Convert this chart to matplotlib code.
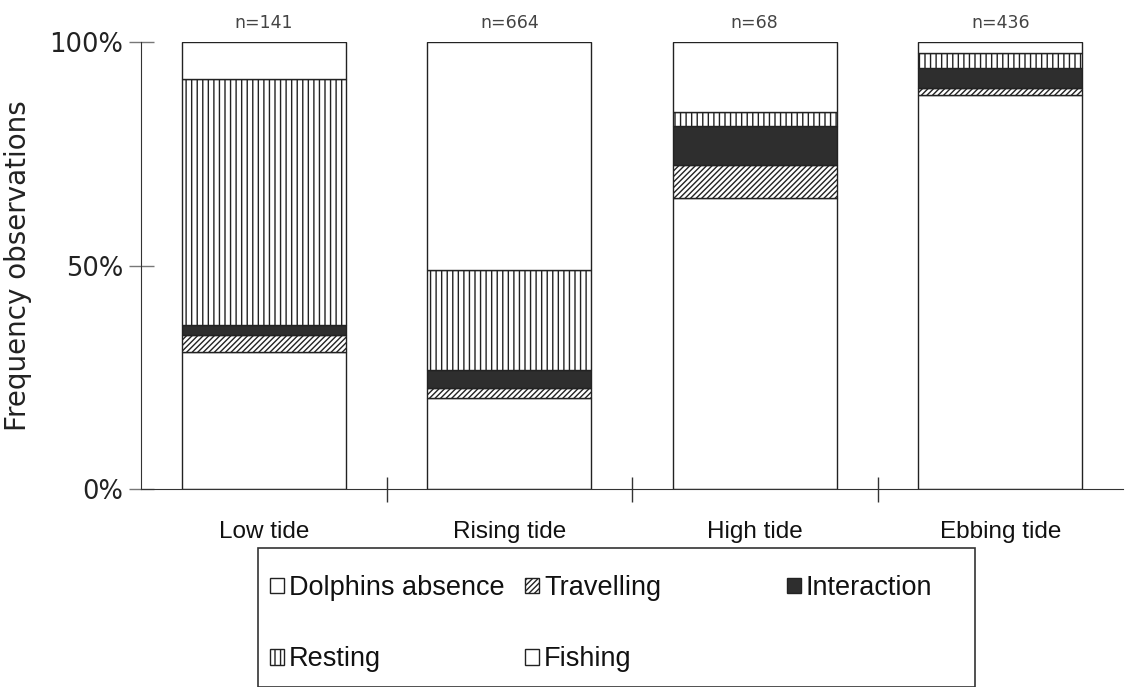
import matplotlib
matplotlib.use("Agg")
import matplotlib.pyplot as plt
from matplotlib.patches import Rectangle
import numpy as np

plt.rcParams['font.family'] = ['DejaVu Sans']
plt.rcParams['hatch.linewidth'] = 1.0

categories = ["Low tide", "Rising tide", "High tide", "Ebbing tide"]
n_labels = ["n=141", "n=664", "n=68", "n=436"]
fishing = [30.6, 20.4, 65.0, 88.1]
travelling = [3.9, 2.1, 7.5, 1.5]
interaction = [2.2, 4.1, 8.6, 4.5]
resting = [55.0, 22.4, 3.3, 3.4]
absence = [8.3, 51.0, 15.6, 2.5]
yticks = [0, 50, 100]
ytick_labels = ["0%", "50%", "100%"]

W, H = 1126, 687
fig = plt.figure(figsize=(W/100, H/100), dpi=100)
ax = fig.add_axes([141/W, 1-489/H, (1123-141)/W, (489-42)/H])

x = np.arange(len(categories))
w = 0.67
series = [
    ("Fishing", fishing, dict(facecolor="white", hatch=None)),
    ("Travelling", travelling, dict(facecolor="white", hatch="//////")),
    ("Interaction", interaction, dict(facecolor="#2e2e2e", hatch=None)),
    ("Resting", resting, dict(facecolor="white", hatch="|||")),
    ("Dolphins absence", absence, dict(facecolor="white", hatch=None)),
]
bottom = np.zeros(len(categories))
handles = {}
for name, vals, st in series:
    b = ax.bar(x, vals, w, bottom=bottom, edgecolor="#222222", linewidth=1.0,
               label=name, **st)
    handles[name] = b
    bottom += np.array(vals)

for xi, t, top in zip(x, n_labels, bottom):
    ax.text(xi, top + 2.3, t, ha="center", va="bottom", fontsize=12.5, color="#444444")

ax.set_xlim(-0.5, 3.5)
ax.set_ylim(0, 100)
ax.spines["top"].set_visible(False)
ax.spines["right"].set_visible(False)
ax.spines["left"].set_color("#333333")
ax.spines["bottom"].set_color("#333333")
ax.set_yticks(yticks)
ax.set_yticklabels(ytick_labels, fontsize=18.5, color="#222222")
ax.tick_params(axis="y", direction="inout", length=18, width=1, color="#777777", pad=4)
ax.set_xticks(x)
ax.set_xticklabels(categories, fontsize=17.5, color="#111111",
                   family=['Liberation Sans', 'DejaVu Sans'])
ax.tick_params(axis="x", length=0, pad=23)
ax.set_xticks([0.5, 1.5, 2.5], minor=True)
ax.tick_params(axis="x", which="minor", direction="inout", length=18, width=1, color="#333333")
ax.set_ylabel("Frequency observations", fontsize=20, color="#222222", labelpad=12)

# legend box
fig.add_artist(Rectangle((258/W, 0), (975-258)/W, 1-548/H, transform=fig.transFigure,
                         facecolor="none", edgecolor="#333333", linewidth=1.2))

cols = [(["Dolphins absence", "Resting"], 270),
        (["Travelling", "Fishing"], 525),
        (["Interaction"], 787)]
for names, xpix in cols:
    leg = fig.legend([handles[k] for k in names], names, ncol=1,
                     loc="upper left", bbox_to_anchor=(xpix/W, 1-575/H),
                     frameon=False, prop={'family': 'Liberation Sans', 'size': 19.5},
                     handlelength=0.5, handleheight=0.5,
                     handletextpad=0.2, labelspacing=1.68, borderpad=0,
                     borderaxespad=0)
    for t in leg.get_texts():
        t.set_color("#111111")

fig.savefig("out.png", dpi=100)
